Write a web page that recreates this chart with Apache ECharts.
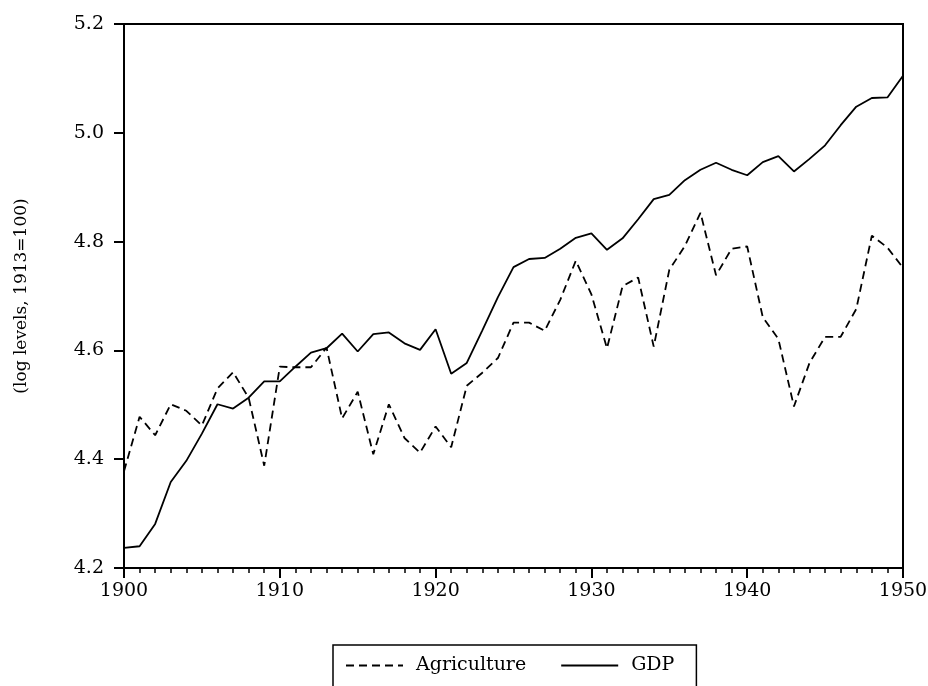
<!DOCTYPE html>
<html>
<head>
<meta charset="utf-8">
<script src="https://cdn.jsdelivr.net/npm/echarts@6/dist/echarts.min.js"></script>
<style>html,body{margin:0;padding:0;background:#fff}#c{width:928px;height:686px}</style>
</head>
<body>
<div id="c"></div>
<script>
const years = [];
for (let y = 1900; y <= 1950; y++) years.push(y);

const agriculture = [4.378, 4.478, 4.444, 4.501, 4.489, 4.462, 4.530, 4.560, 4.513, 4.388,
  4.570, 4.569, 4.569, 4.605, 4.475, 4.524, 4.409, 4.501, 4.439, 4.412,
  4.460, 4.422, 4.535, 4.559, 4.586, 4.651, 4.651, 4.636, 4.693, 4.765,
  4.703, 4.604, 4.718, 4.734, 4.607, 4.748, 4.792, 4.853, 4.738, 4.787,
  4.791, 4.661, 4.621, 4.497, 4.577, 4.625, 4.625, 4.676, 4.811, 4.789,
  4.752];

const gdp = [4.237, 4.240, 4.281, 4.358, 4.397, 4.447, 4.501, 4.493, 4.513, 4.543,
  4.543, 4.570, 4.596, 4.604, 4.631, 4.598, 4.630, 4.633, 4.613, 4.601,
  4.639, 4.557, 4.577, 4.637, 4.698, 4.753, 4.768, 4.770, 4.787, 4.807,
  4.815, 4.785, 4.806, 4.841, 4.878, 4.886, 4.913, 4.932, 4.945, 4.932,
  4.922, 4.946, 4.957, 4.929, 4.952, 4.977, 5.014, 5.048, 5.064, 5.065,
  5.105];

const seriesNames = ['Agriculture', 'GDP'];
const yAxisTitle = '(log levels, 1913=100)';

const font = '"DejaVu Serif", "Liberation Serif", serif';
const chart = echarts.init(document.getElementById('c'), null, {renderer: 'canvas'});

chart.setOption({
  animation: false,
  backgroundColor: '#fff',
  grid: {left: 124, right: 25, top: 24, bottom: 118, containLabel: false, outerBoundsMode: 'none',
         show: true, borderColor: '#000', borderWidth: 2, backgroundColor: 'transparent'},
  legend: {
    data: seriesNames,
    left: 333,
    top: 645,
    itemWidth: 57,
    itemHeight: 12,
    itemGap: 34,
    padding: [11, 22, 30, 12],
    borderColor: '#000',
    borderWidth: 1.5,
    itemStyle: {opacity: 0},
    textStyle: {fontFamily: font, fontSize: 19, color: '#000', padding: [0, 0, 0, 8]}
  },
  xAxis: {
    type: 'value',
    min: 1900, max: 1950, interval: 10,
    axisLine: {show: true, lineStyle: {color: '#000', width: 2}},
    axisTick: {show: true, length: 10, lineStyle: {color: '#000', width: 2}},
    minorTick: {show: true, splitNumber: 10, length: 5, lineStyle: {color: '#000', width: 1.5}},
    splitLine: {show: false},
    axisLabel: {margin: 14, fontFamily: font, fontSize: 19, color: '#000', formatter: v => String(v)}
  },
  yAxis: {
    type: 'value',
    min: 4.2, max: 5.2, interval: 0.2,
    name: yAxisTitle,
    nameLocation: 'middle',
    nameGap: 94,
    nameTextStyle: {fontFamily: font, fontSize: 17, color: '#000'},
    axisLine: {show: true, lineStyle: {color: '#000', width: 2}},
    axisTick: {show: true, length: 10, lineStyle: {color: '#000', width: 2}},
    splitLine: {show: false},
    axisLabel: {margin: 20, fontFamily: font, fontSize: 19, color: '#000', formatter: v => v.toFixed(1)}
  },
  series: [
    {
      name: seriesNames[0], type: 'line', symbol: 'none',
      data: years.map((y, i) => [y, agriculture[i]]),
      lineStyle: {color: '#000', width: 1.8, type: [8, 5]},
      itemStyle: {color: '#000'}
    },
    {
      name: seriesNames[1], type: 'line', symbol: 'none',
      data: years.map((y, i) => [y, gdp[i]]),
      lineStyle: {color: '#000', width: 1.8, type: 'solid'},
      itemStyle: {color: '#000'}
    }
  ]
});
</script>
</body>
</html>
